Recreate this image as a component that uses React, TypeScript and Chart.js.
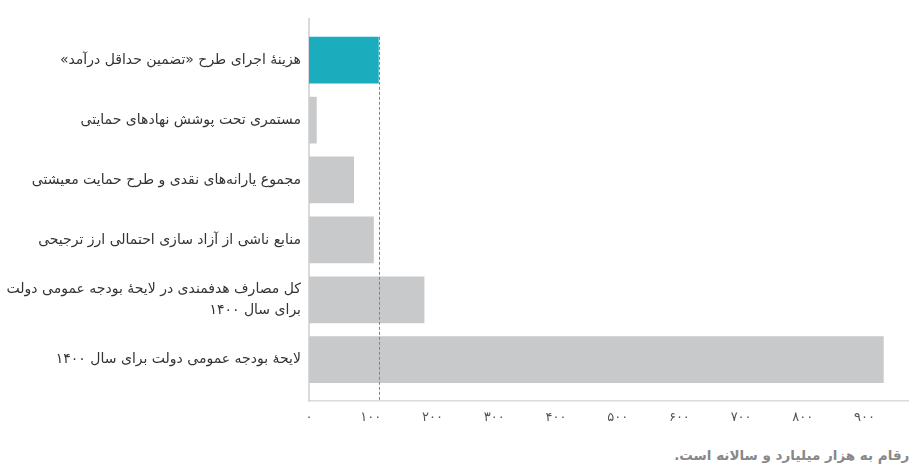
import React, { useEffect, useRef } from "react";
import { Chart, registerables } from "chart.js";

Chart.register(...registerables);

const categories: (string | string[])[] = [
  "هزینهٔ اجرای طرح «تضمین حداقل درآمد»",
  "مستمری تحت پوشش نهادهای حمایتی",
  "مجموع یارانه‌های نقدی و طرح حمایت معیشتی",
  "منابع ناشی از آزاد سازی احتمالی ارز ترجیحی",
  ["کل مصارف هدفمندی در لایحهٔ بودجه عمومی دولت", "برای سال ۱۴۰۰"],
  "لایحهٔ بودجه عمومی دولت برای سال ۱۴۰۰",
];
const values = [113, 12.5, 73, 105, 187, 931];
const highlightIndex = 0;
const referenceValue = 113;
const xTickValues = [0, 100, 200, 300, 400, 500, 600, 700, 800, 900];
const xTickLabels = ["۰", "۱۰۰", "۲۰۰", "۳۰۰", "۴۰۰", "۵۰۰", "۶۰۰", "۷۰۰", "۸۰۰", "۹۰۰"];
const footnote = "ارقام به هزار میلیارد و سالانه است.";

const TEAL = "#1badbe";
const GRAY = "#c8c9cb";
const FONT = "'DejaVu Sans', sans-serif";

const refLinePlugin = {
  id: "refLine",
  afterDatasetsDraw(chart: any) {
    const ctx = chart.ctx;
    const x = chart.scales.x.getPixelForValue(referenceValue);
    const bar = chart.getDatasetMeta(0).data[highlightIndex];
    const { y, height } = bar.getProps(["y", "height"], true);
    const top = y - height / 2;
    const bottom = chart.chartArea.bottom;
    ctx.save();
    ctx.beginPath();
    ctx.setLineDash([3, 2]);
    ctx.strokeStyle = "#12b0c6";
    ctx.lineWidth = 1;
    ctx.moveTo(Math.round(x) + 0.5, top);
    ctx.lineTo(Math.round(x) + 0.5, bottom);
    ctx.stroke();
    ctx.restore();
  },
};

export default function App() {
  const ref = useRef<HTMLCanvasElement | null>(null);

  useEffect(() => {
    if (!ref.current) return;
    const chart = new Chart(ref.current, {
      type: "bar",
      data: {
        datasets: [
          {
            data: values.map((v, i) => ({ x: v, y: i })),
            backgroundColor: values.map((_, i) => (i === highlightIndex ? TEAL : GRAY)),
            borderWidth: 0,
            categoryPercentage: 1,
            barPercentage: 0.78,
          },
        ],
      },
      options: {
        indexAxis: "y",
        animation: false,
        responsive: false,
        maintainAspectRatio: false,
        layout: { padding: { top: 13, left: 0, right: 0, bottom: 0 } },
        plugins: { legend: { display: false }, tooltip: { enabled: false } },
        scales: {
          x: {
            type: "linear",
            min: 0,
            max: 972,
            offset: false,
            grid: { display: false, drawTicks: false },
            border: { display: true, color: "#dadada", width: 1.5 },
            afterBuildTicks: (scale: any) => {
              scale.ticks = xTickValues.map((v) => ({ value: v }));
            },
            afterFit: (scale: any) => {
              scale.height = 39;
            },
            ticks: {
              padding: 9,
              color: "#555",
              font: { family: FONT, size: 13 },
              maxRotation: 0,
              callback: (_v: any, i: number) => xTickLabels[i],
            },
          },
          y: {
            type: "linear",
            min: -0.69,
            max: 5.69,
            reverse: true,
            offset: false,
            grid: { display: false, drawTicks: false, offset: false },
            border: { display: true, color: "#dadada", width: 2 },
            afterBuildTicks: (scale: any) => {
              scale.ticks = categories.map((_, i) => ({ value: i }));
            },
            afterFit: (scale: any) => {
              scale.width = 309;
            },
            ticks: {
              padding: 8,
              color: "#333",
              font: { family: FONT, size: 14, lineHeight: 1.55 },
              callback: (v: any) => categories[v as number],
            },
          },
        },
      },
      plugins: [refLinePlugin],
    } as any);
    return () => chart.destroy();
  }, []);

  return (
    <div
      style={{
        position: "fixed",
        left: 0,
        top: 0,
        width: 909,
        height: 469,
        overflow: "hidden",
        background: "#fff",
      }}
    >
      <canvas ref={ref} width={909} height={440} dir="rtl" style={{ display: "block" }} />
      <div
        dir="rtl"
        style={{
          position: "absolute",
          right: -5,
          top: 447,
          fontFamily: FONT,
          fontWeight: "bold",
          fontSize: 13.5,
          color: "#888888",
          whiteSpace: "nowrap",
        }}
      >
        {footnote}
      </div>
    </div>
  );
}
